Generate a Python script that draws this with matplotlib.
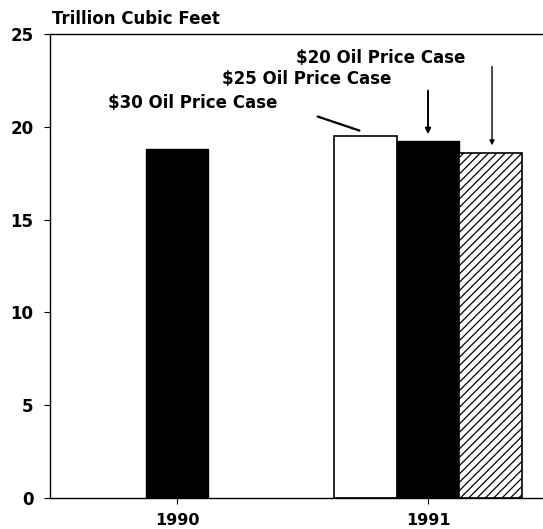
import numpy as np
import matplotlib.pyplot as plt

plt.rcParams['font.family'] = ['DejaVu Sans']
plt.rcParams['font.weight'] = 'bold'
plt.rcParams['hatch.linewidth'] = 0.9

years = ['1990', '1991']
val_1990 = 18.8
cases = ['$30 Oil Price Case', '$25 Oil Price Case', '$20 Oil Price Case']
val_1991 = [19.5, 19.25, 18.6]
yticks = [0, 5, 10, 15, 20, 25]

fig = plt.figure(figsize=(5.43, 5.29), dpi=100)
ax = fig.add_axes([50 / 543, 31 / 529, 493 / 543, 464 / 529])

w = 0.25
ax.bar(0, val_1990, width=w, color='black', edgecolor='black')
ax.bar(1 - w, val_1991[0], width=w, color='white', edgecolor='black', linewidth=1.2)
ax.bar(1, val_1991[1], width=w, color='black', edgecolor='black')
ax.bar(1 + w, val_1991[2], width=w, color='white', edgecolor='black', hatch='////', linewidth=1.2)

ax.set_xlim(-0.506, 1.458)
ax.set_ylim(0, 25)
ax.set_xticks([0, 1])
ax.set_xticklabels(years, fontsize=11.5, fontweight='bold')
ax.set_yticks(yticks)
ax.set_yticklabels([str(v) for v in yticks], fontsize=12, fontweight='bold')
ax.tick_params(axis='x', length=4.5, pad=6.5, direction='out')
ax.tick_params(axis='y', length=4, pad=8, direction='out')
ax.spines['right'].set_visible(False)
for s in ['left', 'bottom', 'top']:
    ax.spines[s].set_linewidth(1.0)

ax.text(0.005, 1.012, 'Trillion Cubic Feet', transform=ax.transAxes,
        fontsize=12, fontweight='bold', ha='left', va='bottom')

# annotations
ax.text(-0.275, 21.3, cases[0], fontsize=12, fontweight='bold', va='center', ha='left')
ax.annotate('', xy=(0.737, 19.75), xytext=(0.55, 20.6),
            arrowprops=dict(arrowstyle='-', lw=1.6, color='black'))
ax.text(0.18, 22.6, cases[1], fontsize=12, fontweight='bold', va='center', ha='left')
ax.annotate('', xy=(1.0, 19.45), xytext=(1.0, 22.1),
            arrowprops=dict(arrowstyle='-|>', lw=1.4, color='black', mutation_scale=8))
ax.text(0.474, 23.7, cases[2], fontsize=12, fontweight='bold', va='center', ha='left')
ax.annotate('', xy=(1.255, 18.85), xytext=(1.255, 23.4),
            arrowprops=dict(arrowstyle='-|>', lw=1.0, color='black', mutation_scale=7))

plt.savefig('out.png', dpi=100)
